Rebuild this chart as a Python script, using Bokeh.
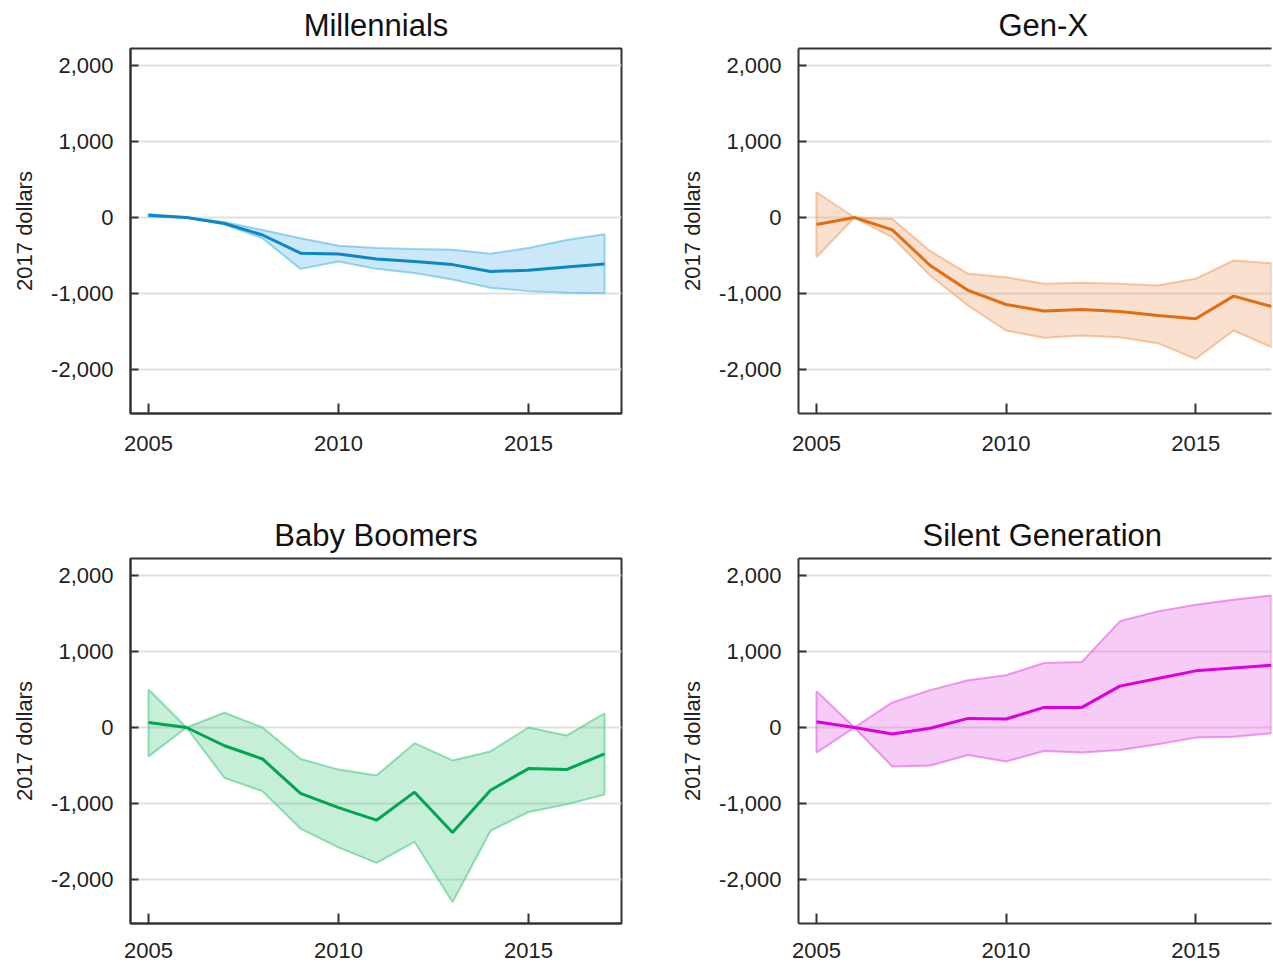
from bokeh.plotting import figure
from bokeh.layouts import gridplot
from bokeh.models import Range1d, FixedTicker, NumeralTickFormatter, LinearAxis
from bokeh.embed import file_html
from bokeh.resources import INLINE

# ---------------- data ----------------
years = [2005, 2006, 2007, 2008, 2009, 2010, 2011, 2012, 2013, 2014, 2015, 2016, 2017]

panel_titles = ["Millennials", "Gen-X", "Baby Boomers", "Silent Generation"]

millennials_mid = [30, 0, -78, -230, -470, -480, -545, -578, -620, -710, -695, -650, -612]
millennials_hi = [45, 0, -60, -165, -273, -372, -400, -416, -425, -478, -400, -295, -221]
millennials_lo = [15, 0, -90, -273, -676, -578, -676, -729, -816, -925, -969, -990, -998]

genx_mid = [-92, 0, -162, -632, -960, -1145, -1232, -1210, -1237, -1290, -1333, -1035, -1171]
genx_hi = [333, 0, -20, -443, -741, -785, -873, -860, -873, -895, -807, -566, -601]
genx_lo = [-522, 0, -259, -763, -1158, -1487, -1583, -1553, -1575, -1654, -1860, -1487, -1706]

boomers_mid = [65, 0, -240, -414, -868, -1055, -1220, -851, -1381, -825, -541, -554, -346]
boomers_hi = [500, 0, 195, 0, -414, -554, -633, -206, -433, -315, 0, -106, 186]
boomers_lo = [-380, 0, -663, -838, -1330, -1578, -1782, -1504, -2296, -1359, -1112, -1012, -881]

silent_mid = [76, 0, -85, -10, 120, 112, 265, 265, 545, 645, 746, 785, 820]
silent_hi = [479, 0, 330, 492, 623, 689, 850, 864, 1398, 1529, 1617, 1682, 1739]
silent_lo = [-330, 0, -514, -501, -361, -448, -308, -330, -295, -221, -133, -120, -76]

x_ticks = [2005, 2010, 2015]
y_ticks = [-2000, -1000, 0, 1000, 2000]
y_label = "2017 dollars"

line_colors = ["#0a87c8", "#e26d12", "#00a650", "#dc00dc"]
band_colors = ["#5ab8e6", "#eea36a", "#4fcb85", "#e35ce3"]

# ---------------- styling ----------------
FONT = "Liberation Sans"
AX = "#333333"
TXT = "#222222"


def make_panel(idx, mid, hi, lo):
    right_side = idx in (1, 3)
    bottom_row = idx in (2, 3)
    width = 595 if right_side else 677
    height = 488 if bottom_row else 480
    x_end = 2017.0 if right_side else 2017.447
    p = figure(
        width=width, height=height,
        x_range=Range1d(2004.526, x_end),
        y_range=Range1d(-2580, 2225),
        output_backend="svg", toolbar_location=None,
        min_border_left=115 if right_side else 130,
        min_border_right=1 if right_side else 56,
        min_border_top=78 if bottom_row else 47,
        min_border_bottom=45 if bottom_row else 67,
        background_fill_color="white", border_fill_color="white",
    )
    # title
    p.title.text = panel_titles[idx]
    p.title.text_font = FONT
    p.title.text_font_size = "31px"
    p.title.text_font_style = "normal"
    p.title.text_color = "#111111"
    p.title.standoff = 11
    if right_side:
        p.title.align = "left"
        p.title.offset = 200 if idx == 1 else 124
    else:
        p.title.align = "center"

    # axes
    for ax in (p.xaxis[0], p.yaxis[0]):
        ax.axis_line_color = AX
        ax.axis_line_width = 2
        ax.major_tick_line_color = AX
        ax.major_tick_line_width = 2
        ax.major_tick_out = 0
        ax.minor_tick_line_color = None
        ax.major_label_text_font = FONT
        ax.major_label_text_font_size = "22px"
        ax.major_label_text_color = TXT
    p.xaxis[0].ticker = FixedTicker(ticks=x_ticks)
    p.xaxis[0].major_tick_in = 10
    p.xaxis[0].major_label_standoff = 19 if bottom_row else 22
    p.yaxis[0].ticker = FixedTicker(ticks=y_ticks)
    p.yaxis[0].formatter = NumeralTickFormatter(format="0,0")
    p.yaxis[0].major_tick_in = 8
    p.yaxis[0].major_label_standoff = 17
    p.yaxis[0].axis_label = y_label
    p.yaxis[0].axis_label_text_font = FONT
    p.yaxis[0].axis_label_text_font_size = "22px"
    p.yaxis[0].axis_label_text_font_style = "normal"
    p.yaxis[0].axis_label_text_color = TXT
    p.yaxis[0].axis_label_standoff = 11

    # grid
    p.xgrid.visible = False
    p.ygrid.ticker = FixedTicker(ticks=y_ticks)
    p.ygrid.grid_line_color = "#e0e0e0"
    p.ygrid.grid_line_width = 2

    # frame
    if right_side:
        p.outline_line_color = None
        top = LinearAxis(ticker=FixedTicker(ticks=[]))
        top.axis_line_color = AX
        top.axis_line_width = 2
        top.major_tick_in = 0
        top.major_tick_out = 0
        top.minor_tick_line_color = None
        top.major_label_text_font_size = "0px"
        top.major_label_standoff = 0
        p.add_layout(top, "above")
    else:
        p.outline_line_color = AX
        p.outline_line_width = 2

    # band + line
    p.patch(years + years[::-1], hi + lo[::-1],
            fill_color=band_colors[idx], fill_alpha=0.32,
            line_color=band_colors[idx], line_alpha=0.6, line_width=2)
    p.line(years, mid, line_color=line_colors[idx], line_width=3)
    return p


p1 = make_panel(0, millennials_mid, millennials_hi, millennials_lo)
p2 = make_panel(1, genx_mid, genx_hi, genx_lo)
p3 = make_panel(2, boomers_mid, boomers_hi, boomers_lo)
p4 = make_panel(3, silent_mid, silent_hi, silent_lo)

layout = gridplot([[p1, p2], [p3, p4]], toolbar_location=None)

open("out.html", "w").write(file_html(layout, INLINE))
